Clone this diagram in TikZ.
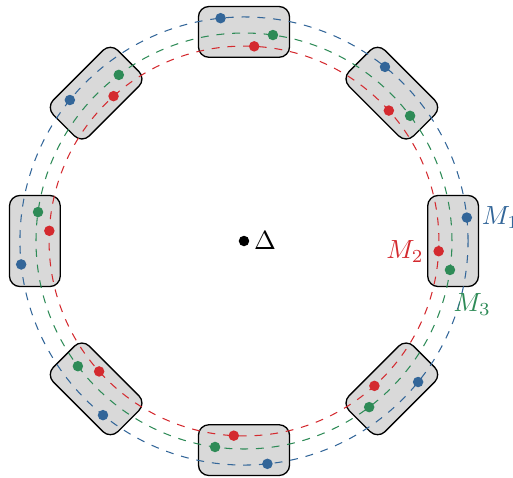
\documentclass[tikz,border=0pt]{standalone}
\definecolor{mblue}{HTML}{336699}
\definecolor{mgreen}{HTML}{2E8B57}
\definecolor{mred}{HTML}{D42A2F}
\begin{document}
\begin{tikzpicture}[
  box/.style={draw, fill=gray!30, rounded corners=4pt, minimum width=1.22cm, minimum height=0.68cm, line width=0.5pt},
  orbit/.style={dashed, line width=0.4pt},
  dot/.style={circle, fill, inner sep=0pt, minimum size=4pt}]
\useasboundingbox (-3.267,-3.160) rectangle (3.602,3.227);
\foreach \a in {0,45,...,315} {
  \node[box, rotate=\a-90] (b\a) at (\a:2.8) {};
}
\draw[orbit, mblue] (0,0) circle (3);
\draw[orbit, mgreen] (0,0) circle (2.785);
\draw[orbit, mred] (0,0) circle (2.61);
\foreach \a in {0,45,...,315} {
  \node[dot, mblue] (u\a) at (\a+6:3) {};
  \node[dot, mgreen] (g\a) at (\a-8:2.785) {};
  \node[dot, mred] (r\a) at (\a-3:2.61) {};
}
\node[dot] (c) at (0,0) {};
\node[right, inner sep=1.5pt] (delta) at (c.east) {$\Delta$};
\node[right, mblue] (m1) at (u0.east) {$M_1$};
\node[left, mred] (m2) at (r0.west) {$M_2$};
\node[anchor=base west, inner sep=0pt, mgreen] (m3) at (2.80,-0.95) {$M_3$};
\end{tikzpicture}
\end{document}
